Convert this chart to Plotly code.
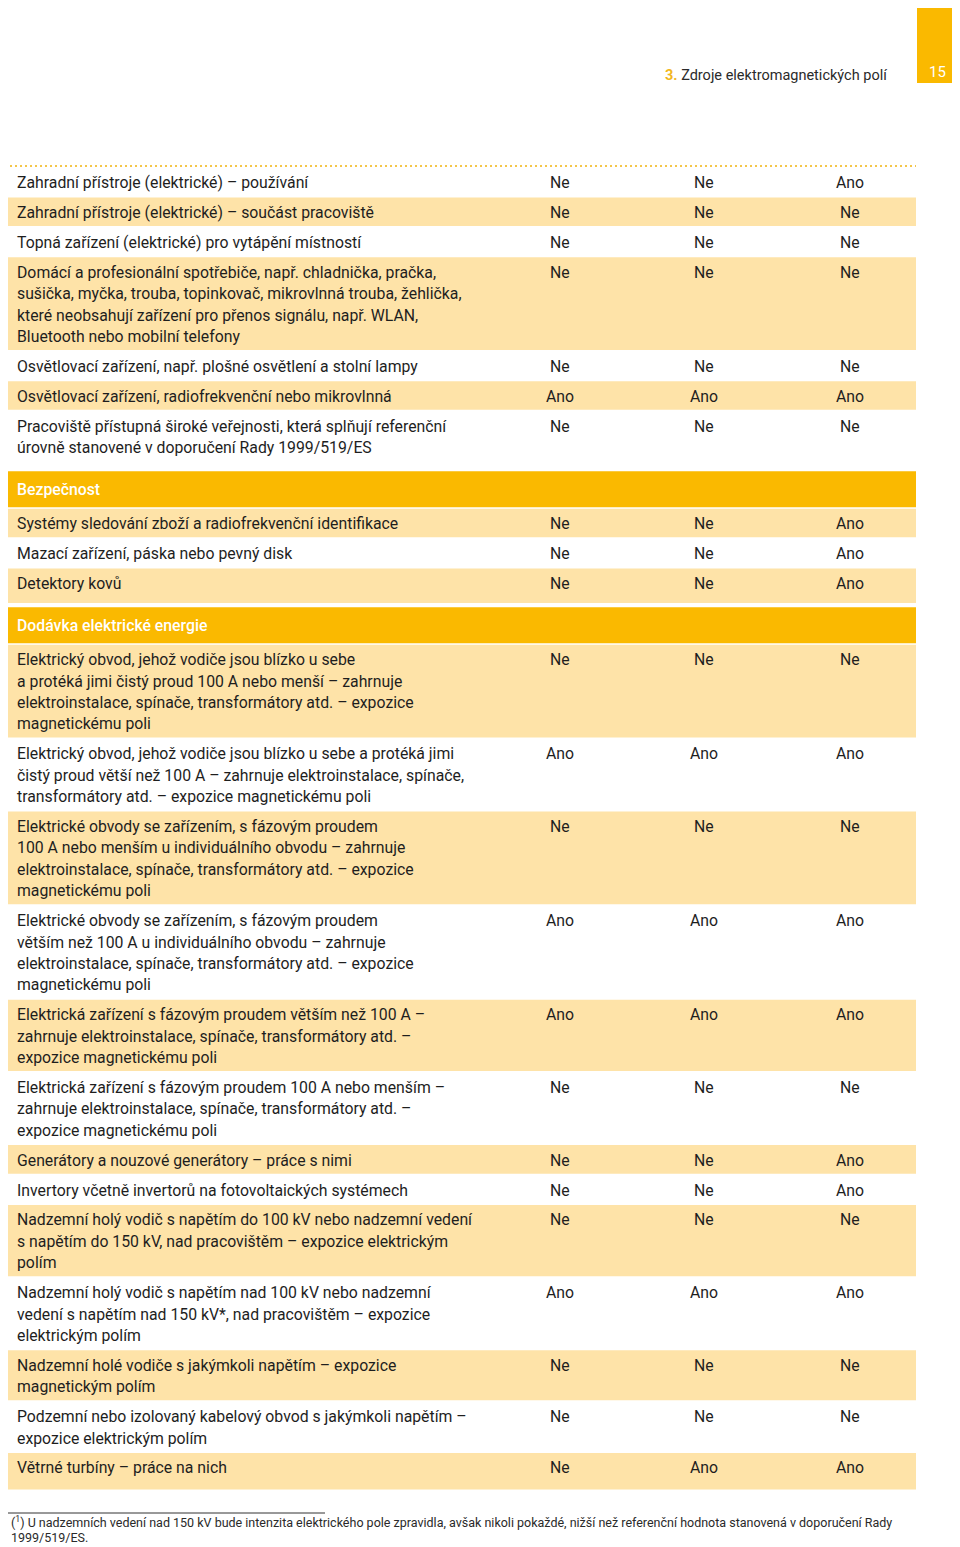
import plotly.graph_objects as go

# ---------------------------------------------------------------- data
labels = [
    "Zahradní přístroje (elektrické) – používání",
    "Zahradní přístroje (elektrické) – součást pracoviště",
    "Topná zařízení (elektrické) pro vytápění místností",
    "Domácí a profesionální spotřebiče, např. chladnička, pračka,<br>sušička, myčka, trouba, topinkovač, mikrovlnná trouba, žehlička,<br>které neobsahují zařízení pro přenos signálu, např. WLAN,<br>Bluetooth nebo mobilní telefony",
    "Osvětlovací zařízení, např. plošné osvětlení a stolní lampy",
    "Osvětlovací zařízení, radiofrekvenční nebo mikrovlnná",
    "Pracoviště přístupná široké veřejnosti, která splňují referenční<br>úrovně stanovené v doporučení Rady 1999/519/ES",
    "Bezpečnost",
    "Systémy sledování zboží a radiofrekvenční identifikace",
    "Mazací zařízení, páska nebo pevný disk",
    "Detektory kovů",
    "Dodávka elektrické energie",
    "Elektrický obvod, jehož vodiče jsou blízko u sebe<br>a protéká jimi čistý proud 100 A nebo menší – zahrnuje<br>elektroinstalace, spínače, transformátory atd. – expozice<br>magnetickému poli",
    "Elektrický obvod, jehož vodiče jsou blízko u sebe a protéká jimi<br>čistý proud větší než 100 A – zahrnuje elektroinstalace, spínače,<br>transformátory atd. – expozice magnetickému poli",
    "Elektrické obvody se zařízením, s fázovým proudem<br>100 A nebo menším u individuálního obvodu – zahrnuje<br>elektroinstalace, spínače, transformátory atd. – expozice<br>magnetickému poli",
    "Elektrické obvody se zařízením, s fázovým proudem<br>větším než 100 A u individuálního obvodu – zahrnuje<br>elektroinstalace, spínače, transformátory atd. – expozice<br>magnetickému poli",
    "Elektrická zařízení s fázovým proudem větším než 100 A –<br>zahrnuje elektroinstalace, spínače, transformátory atd. –<br>expozice magnetickému poli",
    "Elektrická zařízení s fázovým proudem 100 A nebo menším –<br>zahrnuje elektroinstalace, spínače, transformátory atd. –<br>expozice magnetickému poli",
    "Generátory a nouzové generátory – práce s nimi",
    "Invertory včetně invertorů na fotovoltaických systémech",
    "Nadzemní holý vodič s napětím do 100 kV nebo nadzemní vedení<br>s napětím do 150 kV, nad pracovištěm – expozice elektrickým<br>polím",
    "Nadzemní holý vodič s napětím nad 100 kV nebo nadzemní<br>vedení s napětím nad 150 kV*, nad pracovištěm – expozice<br>elektrickým polím",
    "Nadzemní holé vodiče s jakýmkoli napětím – expozice<br>magnetickým polím",
    "Podzemní nebo izolovaný kabelový obvod s jakýmkoli napětím –<br>expozice elektrickým polím",
    "Větrné turbíny – práce na nich",
]
col_a = ["Ne", "Ne", "Ne", "Ne", "Ne", "Ano", "Ne", "",
         "Ne", "Ne", "Ne", "",
         "Ne", "Ano", "Ne", "Ano", "Ano", "Ne", "Ne", "Ne", "Ne", "Ano", "Ne", "Ne", "Ne"]
col_b = ["Ne", "Ne", "Ne", "Ne", "Ne", "Ano", "Ne", "",
         "Ne", "Ne", "Ne", "",
         "Ne", "Ano", "Ne", "Ano", "Ano", "Ne", "Ne", "Ne", "Ne", "Ano", "Ne", "Ne", "Ano"]
col_c = ["Ano", "Ne", "Ne", "Ne", "Ne", "Ano", "Ne", "",
         "Ano", "Ano", "Ano", "",
         "Ne", "Ano", "Ne", "Ano", "Ano", "Ne", "Ano", "Ano", "Ne", "Ano", "Ne", "Ne", "Ano"]
sections = ["Bezpečnost", "Dodávka elektrické energie"]

chapter = "3."
page_title = "Zdroje elektromagnetických polí"
page_number = "15"
footnote = ["(<sup>1</sup>) U nadzemních vedení nad 150 kV bude intenzita elektrického pole zpravidla, "
            "avšak nikoli pokaždé, nižší než referenční hodnota stanovená v doporučení Rady",
            "1999/519/ES."]

# ------------------------------------------------------------- styling
W, H = 960, 1547
OFF = 8  # page body margin: axis ranges shifted so data units == page pixels
LEFT, RIGHT = 5, 916
TEXT_X = 15
COL_X = [560, 704, 850]
LINE = 21.4
ROW_H = 28.6
GAP = 1.3
SEC_H = 36

ORANGE = "#FAB900"
LIGHT = "#FEE3A8"
INK = "#1E1E1E"
FONT = "Roboto"
FS = 15.8

# ------------------------------------------------------- row geometry
tops, bots, kinds = [], [], []
y = 167.5
k = 1  # first block continues from previous page, starts white
for i, lab in enumerate(labels):
    n = lab.count("<br>") + 1
    if lab in sections:
        y += 2.8
        tops.append(y)
        bots.append(y + SEC_H)
        kinds.append("section")
        y += SEC_H + 1.5
        k = 0
    else:
        h = ROW_H + (n - 1) * LINE
        if i + 1 < len(labels) and labels[i + 1] in sections:
            h += 6
        if i == len(labels) - 1:
            h += 8
        tops.append(y)
        bots.append(y + h)
        kinds.append("light" if k % 2 == 0 else "white")
        y += h + GAP
        k += 1

fig = go.Figure()

for kind, color in [("light", LIGHT), ("section", ORANGE)]:
    idx = [i for i, kd in enumerate(kinds) if kd == kind]
    fig.add_trace(go.Bar(
        orientation="h",
        y=[(tops[i] + bots[i]) / 2 for i in idx],
        x=[RIGHT - LEFT] * len(idx),
        base=LEFT,
        width=[bots[i] - tops[i] for i in idx],
        marker=dict(color=color, line=dict(width=0)),
        hoverinfo="skip",
        showlegend=False,
    ))

ann = []
for i, lab in enumerate(labels):
    if kinds[i] == "section":
        ann.append(dict(x=TEXT_X, y=(tops[i] + bots[i]) / 2, text=lab,
                        xanchor="left", yanchor="middle",
                        font=dict(family=FONT, size=FS, color="white", weight=500)))
        continue
    first = tops[i] + 15
    for j, line in enumerate(lab.split("<br>")):
        ann.append(dict(x=TEXT_X, y=first + j * LINE, text=line,
                        xanchor="left", yanchor="middle",
                        font=dict(family=FONT, size=FS, color=INK)))
    for cx, val in zip(COL_X, (col_a[i], col_b[i], col_c[i])):
        ann.append(dict(x=cx, y=first, text=val, xanchor="center", yanchor="middle",
                        font=dict(family=FONT, size=FS, color=INK)))

# header
ann.append(dict(x=890, y=75, xanchor="right", yanchor="middle",
                text=f"<span style='color:#F2B71D'><b>{chapter}</b></span> {page_title}",
                font=dict(family=FONT, size=14.5, color="#2A2A2A")))
ann.append(dict(x=937, y=72, xanchor="center", yanchor="middle", text=page_number,
                font=dict(family=FONT, size=15, color="white")))

# footnote
for j, line in enumerate(footnote):
    ann.append(dict(x=OFF + 1, y=1522 + j * 15.5, text=line, xanchor="left", yanchor="middle",
                    font=dict(family=FONT, size=12.5, color="#2A2A2A")))

for a in ann:
    a.update(xref="x", yref="y", showarrow=False)

shapes = [
    dict(type="rect", xref="x", yref="y", x0=917, x1=W + OFF, y0=0, y1=83,
         fillcolor=ORANGE, line=dict(width=0), layer="below"),
    dict(type="line", xref="x", yref="y", x0=0, x1=RIGHT, y0=166, y1=166,
         line=dict(color="#F4C64A", width=2, dash="2px,3px")),
    dict(type="line", xref="x", yref="y", x0=LEFT, x1=325, y0=1513, y1=1513,
         line=dict(color="#333333", width=1)),
]

fig.update_layout(
    width=W, height=H, autosize=False,
    margin=dict(l=0, r=0, t=0, b=0),
    paper_bgcolor="white", plot_bgcolor="white",
    barmode="overlay",
    xaxis=dict(range=[OFF, W + OFF], visible=False, fixedrange=True),
    yaxis=dict(range=[H + OFF, OFF], visible=False, fixedrange=True),
    annotations=ann, shapes=shapes,
)

fig.write_html("out.html")
